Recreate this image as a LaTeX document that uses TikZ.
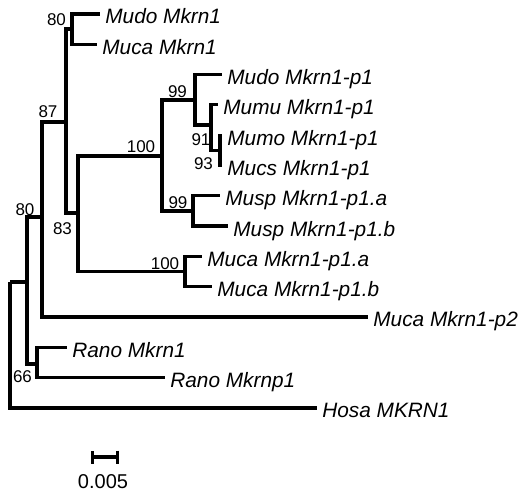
\documentclass[tikz,border=0pt]{standalone}
\usepackage{fontspec}
\setmainfont{Liberation Sans}
\usetikzlibrary{arrows.meta}

\begin{document}
\begin{tikzpicture}[x=0.5pt, y=-0.5pt,
  every node/.style={inner sep=0pt},
  branch/.style={line width=1.6pt, line join=miter},
  taxon/.style={font=\fontsize{10.4}{12}\selectfont\itshape,
                anchor=base west, xshift=2.5pt, yshift=-5pt},
  boot/.style={font=\fontsize{8.5}{10}\selectfont}]

  \useasboundingbox (0,0) rectangle (520,492);

  % Tips
  \coordinate (mudo1)  at (100, 14);
  \coordinate (muca1)  at ( 97, 44.3);
  \coordinate (mudop1) at (222, 74.6);
  \coordinate (mumup1) at (218,104.9);
  \coordinate (mumop1) at (222,135.2);
  \coordinate (mucsp1) at (222,165.5);
  \coordinate (muspa)  at (220,195.8);
  \coordinate (muspb)  at (228,226.1);
  \coordinate (mucaa)  at (202,256.4);
  \coordinate (mucab)  at (212,286.7);
  \coordinate (mucap2) at (368,317);
  \coordinate (rano1)  at ( 67,347.3);
  \coordinate (ranop1) at (165,377.6);
  \coordinate (hosa1)  at (317,407.9);

  % Internal nodes
  \coordinate (n80a)  at ( 72, 29);
  \coordinate (n93)   at (220,150.4);
  \coordinate (n91)   at (211,125);
  \coordinate (n99a)  at (195,100);
  \coordinate (n99b)  at (193,211);
  \coordinate (n100a) at (162,156);
  \coordinate (n100b) at (185,271.5);
  \coordinate (n83)   at ( 78,213);
  \coordinate (n87)   at ( 66,122);
  \coordinate (n80b)  at ( 42,217);
  \coordinate (n66)   at ( 37,364);
  \coordinate (nx)    at ( 27,282);
  \coordinate (root)  at ( 10,282);

  % Branches
  \draw[branch] (n80a) |- (mudo1) (n80a) |- (muca1);
  \draw[branch] (n93) |- (mumop1) (n93) |- (mucsp1);
  \draw[branch] (n91) |- (mumup1) (n91) |- (n93);
  \draw[branch] (n99a) |- (mudop1) (n99a) |- (n91);
  \draw[branch] (n99b) |- (muspa) (n99b) |- (muspb);
  \draw[branch] (n100a) |- (n99a) (n100a) |- (n99b);
  \draw[branch] (n100b) |- (mucaa) (n100b) |- (mucab);
  \draw[branch] (n83) |- (n100a) (n83) |- (n100b);
  \draw[branch] (n87) |- (n80a) (n87) |- (n83);
  \draw[branch] (n80b) |- (n87) (n80b) |- (mucap2);
  \draw[branch] (n66) |- (rano1) (n66) |- (ranop1);
  \draw[branch] (nx) |- (n80b) (nx) |- (n66);
  \draw[branch] (root) -- (nx) (root) |- (hosa1);

  % Taxon labels
  \node[taxon] (mudo1l)  at (mudo1)  {Mudo Mkrn1};
  \node[taxon] (muca1l)  at (muca1)  {Muca Mkrn1};
  \node[taxon] (mudop1l) at (mudop1) {Mudo Mkrn1-p1};
  \node[taxon] (mumup1l) at (mumup1) {Mumu Mkrn1-p1};
  \node[taxon] (mumop1l) at (mumop1) {Mumo Mkrn1-p1};
  \node[taxon] (mucsp1l) at (mucsp1) {Mucs Mkrn1-p1};
  \node[taxon] (muspal)  at (muspa)  {Musp Mkrn1-p1.a};
  \node[taxon] (muspbl)  at (muspb)  {Musp Mkrn1-p1.b};
  \node[taxon] (mucaal)  at (mucaa)  {Muca Mkrn1-p1.a};
  \node[taxon] (mucabl)  at (mucab)  {Muca Mkrn1-p1.b};
  \node[taxon] (mucap2l) at (mucap2) {Muca Mkrn1-p2};
  \node[taxon] (rano1l)  at (rano1)  {Rano Mkrn1};
  \node[taxon] (ranop1l) at (ranop1) {Rano Mkrnp1};
  \node[taxon] (hosa1l)  at (hosa1)  {Hosa MKRN1};

  % Bootstrap values
  \node[boot] (b80a)  at ( 56.5, 19.5) {80};
  \node[boot] (b87)   at ( 48,112)     {87};
  \node[boot] (b99a)  at (177.5, 92)   {99};
  \node[boot] (b100a) at (141,146.5)   {100};
  \node[boot] (b91)   at (201,140)     {91};
  \node[boot] (b93)   at (203.5,163.5) {93};
  \node[boot] (b99b)  at (178,203)     {99};
  \node[boot] (b100b) at (165,264)     {100};
  \node[boot] (b83)   at ( 62.5,228.5) {83};
  \node[boot] (b80b)  at ( 25,210)     {80};
  \node[boot] (b66)   at ( 22.5,376.5) {66};

  % Scale bar
  \coordinate (sbl) at ( 91,457);
  \coordinate (sbr) at (119,457);
  \draw[branch, {Bar[width=6.5pt]}-{Bar[width=6.5pt]}] (sbl) -- (sbr);
  \node[font=\fontsize{10}{12}\selectfont] (sbt) at (103,482) {0.005};
\end{tikzpicture}
\end{document}
